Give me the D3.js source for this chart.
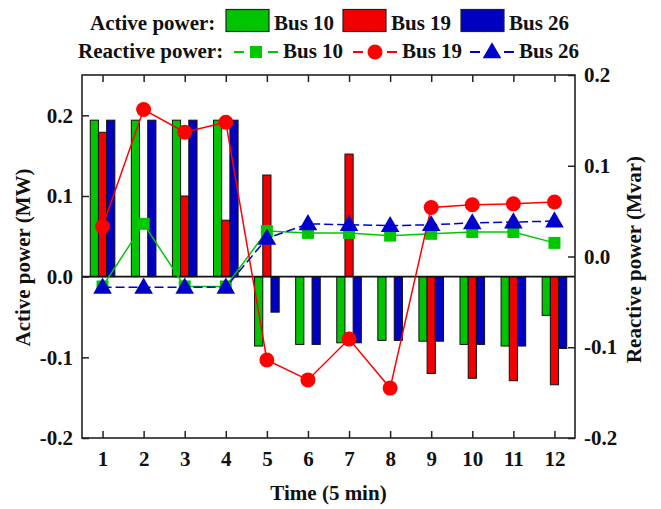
<!DOCTYPE html>
<html>
<head>
    <meta charset="utf-8">
    <title>Active and reactive power</title>
    <script src="https://d3js.org/d3.v7.min.js"></script>
    <style>
        body {
            margin: 0;
            background: #ffffff;
        }
        svg text {
            font-family: "Liberation Serif", "Times New Roman", serif;
            font-weight: bold;
            fill: #111;
        }
    </style>
</head>
<body>
    <div id="chart"></div>

    <script>
        // data
        const times = [1, 2, 3, 4, 5, 6, 7, 8, 9, 10, 11, 12];
        const buses = ["Bus 10", "Bus 19", "Bus 26"];

        const activeBus10 = [0.194, 0.194, 0.194, 0.194, -0.086, -0.084, -0.082, -0.079, -0.080, -0.084, -0.086, -0.048];
        const activeBus19 = [0.179, 0, 0.100, 0.070, 0.126, 0, 0.152, 0, -0.120, -0.126, -0.129, -0.134];
        const activeBus26 = [0.194, 0.194, 0.194, 0.194, -0.044, -0.084, -0.082, -0.079, -0.080, -0.084, -0.086, -0.089];

        const reactiveBus10 = [-0.033, 0.036, -0.033, -0.033, 0.028, 0.026, 0.026, 0.023, 0.025, 0.027, 0.027, 0.015];
        const reactiveBus19 = [0.033, 0.162, 0.137, 0.148, -0.114, -0.136, -0.091, -0.145, 0.054, 0.057, 0.058, 0.060];
        const reactiveBus26 = [-0.034, -0.034, -0.034, -0.034, 0.020, 0.036, 0.035, 0.034, 0.035, 0.037, 0.038, 0.039];

        const leftTicks = [-0.2, -0.1, 0.0, 0.1, 0.2];
        const rightTicks = [-0.2, -0.1, 0.0, 0.1, 0.2];

        const barColor = { "Bus 10": "#00c400", "Bus 19": "#f00000", "Bus 26": "#0000c0" };
        const lineColor = { "Bus 10": "#00c800", "Bus 19": "#ff0000", "Bus 26": "#0000cc" };

        const activeData = [activeBus10, activeBus19, activeBus26];
        const reactiveData = [reactiveBus10, reactiveBus19, reactiveBus26];

        const width = 661, height = 509;
        const margin = { top: 75, right: 86, bottom: 71, left: 82 };
        const x0 = margin.left, x1 = width - margin.right;
        const y0 = height - margin.bottom, y1 = margin.top;

        const svg = d3.select("#chart")
            .append("svg")
            .attr("width", width)
            .attr("height", height);

        // scales
        const xScale = d3.scaleLinear().domain([0.5, 12.5]).range([x0, x1]);
        const yLeft = d3.scaleLinear().domain([-0.2, 0.25]).range([y0, y1]);
        const yRight = d3.scaleLinear().domain([-0.2, 0.2]).range([y0, y1]);
        const sub = d3.scaleBand().domain(buses).range([-12.3, 12.3]);

        // bars
        const barGroups = svg.append("g")
            .selectAll("g")
            .data(times)
            .join("g")
            .attr("transform", d => `translate(${xScale(d)},0)`);

        barGroups.selectAll("rect")
            .data((t, i) => buses.map((b, k) => ({ bus: b, value: activeData[k][i] })))
            .join("rect")
            .filter(d => d.value !== 0)
            .attr("x", d => sub(d.bus))
            .attr("width", sub.bandwidth())
            .attr("y", d => yLeft(Math.max(0, d.value)))
            .attr("height", d => Math.abs(yLeft(d.value) - yLeft(0)))
            .attr("fill", d => barColor[d.bus])
            .attr("stroke", "#111")
            .attr("stroke-width", 1);

        // zero line of active power
        svg.append("line")
            .attr("x1", x0).attr("x2", x1)
            .attr("y1", yLeft(0)).attr("y2", yLeft(0))
            .attr("stroke", "#111")
            .attr("stroke-width", 1.6);

        // reactive power lines
        const line = d3.line()
            .x((d, i) => xScale(times[i]))
            .y(d => yRight(d));

        const triangle = d3.symbol().type(d3.symbolTriangle).size(150);

        function drawMarker(sel, bus) {
            if (bus === "Bus 10") {
                sel.append("rect")
                    .attr("x", -6).attr("y", -6)
                    .attr("width", 12).attr("height", 12)
                    .attr("fill", lineColor[bus]);
            } else if (bus === "Bus 19") {
                sel.append("circle")
                    .attr("r", 7.5)
                    .attr("fill", lineColor[bus]);
            } else {
                sel.append("path")
                    .attr("d", triangle)
                    .attr("transform", "translate(0,1)")
                    .attr("fill", lineColor[bus]);
            }
        }

        buses.forEach((bus, k) => {
            svg.append("path")
                .datum(reactiveData[k])
                .attr("d", line)
                .attr("fill", "none")
                .attr("stroke", lineColor[bus])
                .attr("stroke-width", 1.5)
                .attr("stroke-dasharray", bus === "Bus 26" ? "9,4" : null);

            svg.append("g")
                .selectAll("g")
                .data(reactiveData[k])
                .join("g")
                .attr("transform", (d, i) => `translate(${xScale(times[i])},${yRight(d)})`)
                .each(function () { drawMarker(d3.select(this), bus); });
        });

        // axes
        const fmt = d => d.toFixed(1);

        const axisStyle = g => {
            g.selectAll(".domain").remove();
            g.selectAll("line").attr("stroke", "#222").attr("stroke-width", 1.5);
            g.selectAll("text").style("font-size", "21px").attr("fill", "#111");
        };

        svg.append("g")
            .attr("transform", `translate(${x0},0)`)
            .call(d3.axisLeft(yLeft).tickValues(leftTicks).tickFormat(fmt).tickSize(-7).tickPadding(9))
            .call(axisStyle);

        svg.append("g")
            .attr("transform", `translate(${x1},0)`)
            .call(d3.axisRight(yRight).tickValues(rightTicks).tickFormat(fmt).tickSize(-7).tickPadding(9))
            .call(axisStyle);

        svg.append("g")
            .attr("transform", `translate(0,${y0})`)
            .call(d3.axisBottom(xScale).tickValues(times).tickFormat(d3.format("d")).tickSize(-7).tickPadding(13))
            .call(axisStyle);

        svg.append("g")
            .attr("transform", `translate(0,${y1})`)
            .call(d3.axisTop(xScale).tickValues(times).tickFormat("").tickSize(-7))
            .call(axisStyle);

        // frame
        svg.append("rect")
            .attr("x", x0).attr("y", y1)
            .attr("width", x1 - x0).attr("height", y0 - y1)
            .attr("fill", "none")
            .attr("stroke", "#222")
            .attr("stroke-width", 1.6);

        // axis titles
        svg.append("text")
            .attr("transform", `translate(23,${(y0 + y1) / 2 + 1}) rotate(-90)`)
            .attr("text-anchor", "middle")
            .attr("dy", "0.35em")
            .style("font-size", "21px")
            .text("Active power (MW)");

        svg.append("text")
            .attr("transform", `translate(634,${(y0 + y1) / 2 + 3}) rotate(-90)`)
            .attr("text-anchor", "middle")
            .attr("dy", "0.35em")
            .style("font-size", "21px")
            .text("Reactive power (Mvar)");

        svg.append("text")
            .attr("x", (x0 + x1) / 2)
            .attr("y", 500)
            .attr("text-anchor", "middle")
            .style("font-size", "21px")
            .text("Time (5 min)");

        // legend
        const legend = svg.append("g");
        const swatchX = [226, 343, 461];
        const row2X = [234, 353, 470];

        legend.append("text")
            .attr("x", 90).attr("y", 30)
            .style("font-size", "21px")
            .text("Active power:");

        buses.forEach((bus, k) => {
            legend.append("rect")
                .attr("x", swatchX[k]).attr("y", 9.5)
                .attr("width", 43).attr("height", 22)
                .attr("fill", barColor[bus])
                .attr("stroke", "#222")
                .attr("stroke-width", 1.2);
            legend.append("text")
                .attr("x", swatchX[k] + 48).attr("y", 30)
                .style("font-size", "21px")
                .text(bus);
        });

        legend.append("text")
            .attr("x", 78).attr("y", 58)
            .style("font-size", "21px")
            .text("Reactive power:");

        buses.forEach((bus, k) => {
            const lx = row2X[k];
            legend.append("line")
                .attr("x1", lx).attr("x2", lx + 44)
                .attr("y1", 52).attr("y2", 52)
                .attr("stroke", lineColor[bus])
                .attr("stroke-width", 2)
                .attr("stroke-dasharray", "10,24");
            legend.append("line")
                .attr("x1", lx + 44).attr("x2", lx + 34)
                .attr("y1", 52).attr("y2", 52)
                .attr("stroke", lineColor[bus])
                .attr("stroke-width", 2);
            const m = legend.append("g").attr("transform", `translate(${lx + 22},52)`);
            drawMarker(m, bus);
            legend.append("text")
                .attr("x", lx + 49).attr("y", 58)
                .style("font-size", "21px")
                .text(bus);
        });
    </script>
</body>
</html>
